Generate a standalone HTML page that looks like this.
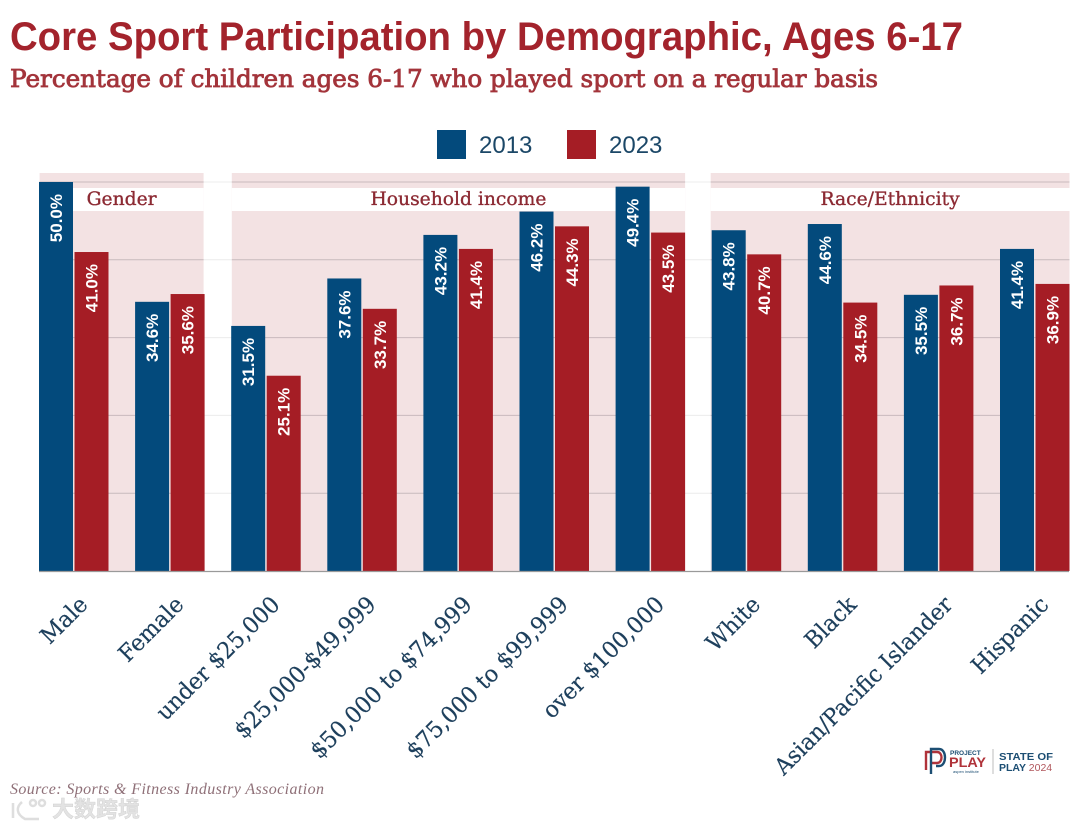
<!DOCTYPE html>
<html lang="en">
<head>
<meta charset="utf-8">
<title>Core Sport Participation by Demographic, Ages 6-17</title>
<style>
html,body{margin:0;padding:0;background:#fff;width:1080px;height:829px;overflow:hidden}
svg{display:block}
.serif{font-family:"DejaVu Serif","Liberation Serif",serif}
.lserif{font-family:"Liberation Serif","DejaVu Serif",serif}
.sans{font-family:"Liberation Sans",sans-serif}
</style>
</head>
<body>
<svg id="chart" width="1080" height="829" viewBox="0 0 1080 829" xmlns="http://www.w3.org/2000/svg">
  <text class="sans" x="10" y="50" font-size="40" font-weight="700" fill="#a3232c" textLength="953" lengthAdjust="spacingAndGlyphs">Core Sport Participation by Demographic, Ages 6-17</text>
  <text class="serif" x="10" y="87" font-size="24" font-weight="400" fill="#a3343b" stroke="#a3343b" stroke-width="0.8" textLength="868" lengthAdjust="spacingAndGlyphs">Percentage of children ages 6-17 who played sport on a regular basis</text>

  <g>
    <rect x="437" y="130" width="29" height="29" fill="#034a7c"/>
    <text class="sans" x="479" y="153" font-size="24" fill="#1b4767">2013</text>
    <rect x="567" y="130" width="29" height="29" fill="#a51d25"/>
    <text class="sans" x="609" y="153" font-size="24" fill="#1b4767">2023</text>
  </g>

  <g id="grid-faint"></g>
  <g id="bands"></g>
  <g id="grid"></g>
  <g id="strips"></g>
  <g id="bars"></g>
  <g id="xlabels"></g>
  <line x1="39" y1="571.5" x2="1069" y2="571.5" stroke="#9a9a9a" stroke-width="1.2"/>

  <text class="lserif" x="10" y="794" font-size="16" font-style="italic" fill="#8f7078" textLength="314" lengthAdjust="spacing">Source: Sports &amp; Fitness Industry Association</text>
  <text font-family="'Liberation Sans','Noto Sans CJK SC',sans-serif" x="52" y="817" font-size="22" font-weight="700" fill="#e3e3e3" stroke="#cfcfcf" stroke-width="0.4">大数跨境</text>
  <g fill="none" stroke="#dedede" stroke-width="2.5">
    <path d="M13 803v15M22 802c-6 5-6 12 3 17h14"/>
    <circle cx="33" cy="803" r="3"/>
    <circle cx="42" cy="803" r="3"/>
  </g>

  <g>
    <path d="M926 770v-18h11c6 0 6 11 0 11h-5" fill="none" stroke="#b0333a" stroke-width="2.4"/>
    <path d="M931 774v-25h8c8 0 8 17 0 17h-3" fill="none" stroke="#1c4e73" stroke-width="2.4"/>
    <text class="sans" x="950" y="755" font-size="6.5" font-weight="700" fill="#1c4e73">PROJECT</text>
    <text class="sans" x="949" y="767" font-size="14" font-weight="700" fill="#b0333a" textLength="37" lengthAdjust="spacingAndGlyphs">PLAY</text>
    <text class="sans" x="953" y="773" font-size="4" fill="#1c4e73">aspen institute</text>
    <line x1="993" y1="749" x2="993" y2="774" stroke="#bdbdbd" stroke-width="1"/>
    <text class="sans" x="999" y="760" font-size="10.5" font-weight="700" fill="#1c4e73" textLength="54" lengthAdjust="spacingAndGlyphs">STATE OF</text>
    <text class="sans" x="999" y="771" font-size="10.5" font-weight="700" fill="#1c4e73">PLAY <tspan font-weight="400" fill="#b0555b">2024</tspan></text>
  </g>
</svg>
<script>
const categories = ["Male","Female","under $25,000","$25,000-$49,999","$50,000 to $74,999","$75,000 to $99,999","over $100,000","White","Black","Asian/Pacific Islander","Hispanic"];
const values2013 = [50.0,34.6,31.5,37.6,43.2,46.2,49.4,43.8,44.6,35.5,41.4];
const values2023 = [41.0,35.6,25.1,33.7,41.4,44.3,43.5,40.7,34.5,36.7,36.9];
const gridTicks = [0,10,20,30,40,50];
const groupNames = ["Gender","Household income","Race/Ethnicity"];
const groupFirst = [0,2,7];
const groupLast = [1,6,10];

const NS = 'http://www.w3.org/2000/svg';
const plotLeft = 39, step = 96.1, barW = 34, barGap = 1.5;
const y0 = 571, pxPerUnit = 7.78;
const COL13 = '#034a7c', COL23 = '#a51d25';

function yScale(v){ return y0 - v * pxPerUnit; }
function xScale(i){ return plotLeft + step * i; }
function make(tag, attrs, parent){
  const el = document.createElementNS(NS, tag);
  for (const k in attrs) el.setAttribute(k, attrs[k]);
  parent.appendChild(el);
  return el;
}
function bandLeft(g){ return xScale(groupFirst[g]) + (g === 2 ? -1 : 0.6); }
function bandRight(g){ return xScale(groupLast[g]) + barW * 2 + barGap - (g === 0 ? 1 : 0); }

const bands = document.getElementById('bands');
const grid = document.getElementById('grid');
const gridFaint = document.getElementById('grid-faint');
const strips = document.getElementById('strips');
const bars = document.getElementById('bars');
const xlabels = document.getElementById('xlabels');

gridTicks.forEach(function(t){
  if (t === 0) return;
  const faint = make('line', {x1:plotLeft, x2:1069, y1:yScale(t), y2:yScale(t), stroke:'#ececec', 'stroke-width':1}, gridFaint);
  
  
});

groupNames.forEach(function(name, g){
  const left = bandLeft(g);
  const right = bandRight(g);
  const band = make('rect', {x:left, y:173, width:right-left, height:398, fill:'#f3e2e3'}, bands);
  
  
  gridTicks.forEach(function(t){
    if (t === 0) return;
    const line = make('line', {x1:left, x2:right, y1:yScale(t), y2:yScale(t), stroke:'#c8b9bd', 'stroke-width':1}, grid);
    
    
  });
});

groupNames.forEach(function(name, g){
  const left = bandLeft(g);
  const right = bandRight(g);
  const strip = make('rect', {x:left, y:188, width:right-left, height:23, fill:'#ffffff'}, strips);
  
  
  const head = make('text', {x:(left+right)/2, y:205, 'text-anchor':'middle', 'font-size':18.7, fill:'#8c2a33', 'class':'serif', stroke:'#8c2a33', 'stroke-width':0.35}, strips);
  head.textContent = name;
  
  
});

function drawBar(i, v, x, color){
  const top = yScale(v);
  const bar = make('rect', {x:x, y:top, width:barW, height:y0-top, fill:color}, bars);
  
  
  const lx = x + barW/2 + 6;
  const ly = top + 12;
  const label = make('text', {x:lx, y:ly, transform:'rotate(-90 '+lx+' '+ly+')', 'text-anchor':'end', 'font-size':17, 'font-weight':700, fill:'#ffffff', 'class':'sans'}, bars);
  label.textContent = v.toFixed(1) + '%';
  
  
}

categories.forEach(function(name, i){
  const x = xScale(i);
  drawBar(i, values2013[i], x, COL13);
  drawBar(i, values2023[i], x + barW + barGap, COL23);
  const tx = x + barW + 16;
  const ty = 606;
  const tick = make('text', {x:0, y:0, transform:'translate('+tx+' '+ty+') rotate(-45) scale(0.955 1)', 'text-anchor':'end', 'font-size':23, fill:'#1d3f5c', stroke:'#1d3f5c', 'stroke-width':0.2, 'class':'serif'}, xlabels);
  tick.textContent = name;
  
  
});
</script>
</body>
</html>
